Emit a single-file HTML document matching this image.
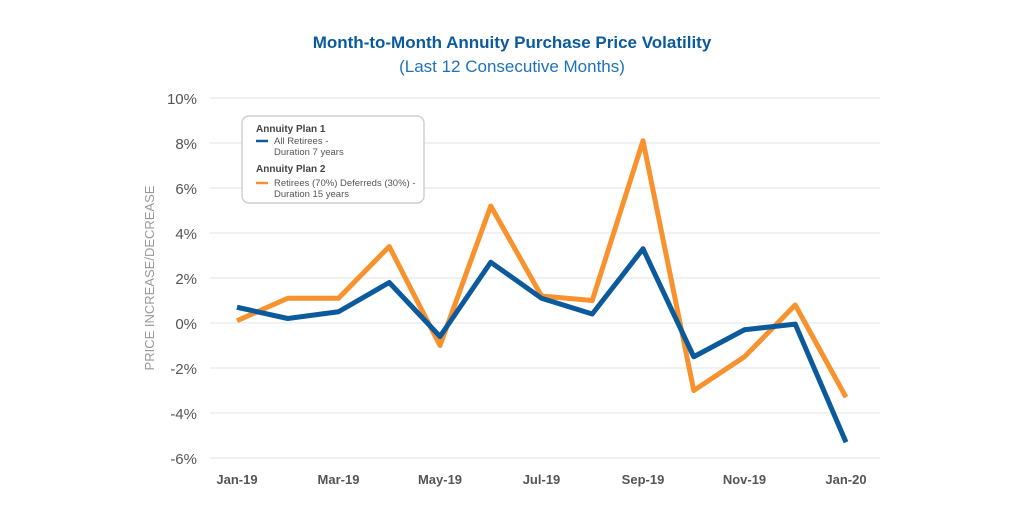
<!DOCTYPE html>
<html><head><meta charset="utf-8"><style>
body{margin:0;background:#fff;width:1024px;height:512px;overflow:hidden;font-family:"Liberation Sans",sans-serif}
</style></head><body>
<svg width="1024" height="512">
<text x="512" y="48" text-anchor="middle" font-size="17" font-weight="bold" fill="#0b5a9c">Month-to-Month Annuity Purchase Price Volatility</text>
<text x="512" y="72" text-anchor="middle" font-size="17" fill="#1f72b8">(Last 12 Consecutive Months)</text>
<text transform="translate(154,278) rotate(-90)" text-anchor="middle" font-size="13" fill="#999">PRICE INCREASE/DECREASE</text>
<g id="grid"></g><g id="ylab"></g><g id="xlab"></g><g id="lines"></g>
<g>
<rect x="242" y="116" width="182" height="87" rx="7" fill="#fff" stroke="#d0d0d0" stroke-width="1.5"/>
<text x="256" y="132" font-size="10" font-weight="bold" fill="#444">Annuity Plan 1</text>
<line x1="256" y1="141" x2="268" y2="141" stroke="#0b5a9c" stroke-width="2.5"/>
<text x="274" y="144" font-size="9.5" fill="#555">All Retirees -</text>
<text x="274" y="155" font-size="9.5" fill="#555">Duration 7 years</text>
<text x="256" y="172" font-size="10" font-weight="bold" fill="#444">Annuity Plan 2</text>
<line x1="256" y1="183" x2="268" y2="183" stroke="#f7922e" stroke-width="2.5"/>
<text x="274" y="186" font-size="9.5" fill="#555">Retirees (70%) Deferreds (30%) -</text>
<text x="274" y="197" font-size="9.5" fill="#555">Duration 15 years</text>
</g>
</svg>
<script>
const months=["Jan-19","Feb-19","Mar-19","Apr-19","May-19","Jun-19","Jul-19","Aug-19","Sep-19","Oct-19","Nov-19","Dec-19","Jan-20"];
const plan1=[0.7,0.2,0.5,1.8,-0.6,2.7,1.1,0.4,3.3,-1.5,-0.3,-0.05,-5.3];
const plan2=[0.1,1.1,1.1,3.4,-1.0,5.2,1.2,1.0,8.1,-3.0,-1.5,0.8,-3.3];
const yTicks=[-6,-4,-2,0,2,4,6,8,10];
const NS="http://www.w3.org/2000/svg";
const X=i=>237+i*(846-237)/(months.length-1);
const Y=v=>323-v*22.5;
function mk(tag,attrs,parent){const e=document.createElementNS(NS,tag);for(const k in attrs)e.setAttribute(k,attrs[k]);document.getElementById(parent).appendChild(e);return e;}
yTicks.forEach(t=>{
 const l=mk('line',{x1:210,x2:880,y1:Y(t),y2:Y(t),stroke:'#e3e3e3','stroke-width':1},'grid');
 
 
 const tx=mk('text',{x:197,y:Y(t)+6,'text-anchor':'end','font-size':15,fill:'#555'},'ylab');
 tx.textContent=t+'%';
 
 
});
months.forEach((m,i)=>{if(i%2)return;
 const tx=mk('text',{x:X(i),y:484,'text-anchor':'middle','font-size':13,'font-weight':'bold',fill:'#555'},'xlab');
 tx.textContent=m;
 
 
});
[[plan2,'#f7922e','plan2-line'],[plan1,'#0b5a9c','plan1-line']].forEach(([d,c,n])=>{
 const p=mk('polyline',{points:d.map((v,i)=>X(i)+','+Y(v)).join(' '),fill:'none',stroke:c,'stroke-width':5,'stroke-linejoin':'round'},'lines');
 
 
});
</script>
</body></html>
